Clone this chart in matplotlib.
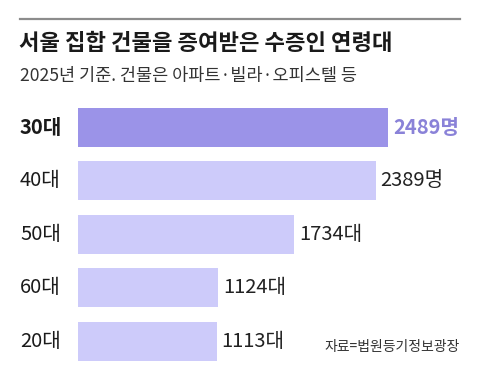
import matplotlib
matplotlib.use("Agg")
import matplotlib.pyplot as plt

plt.rcParams['font.family'] = ['Noto Sans CJK KR', 'DejaVu Sans']

ages = ['30대', '40대', '50대', '60대', '20대']
counts = [2489, 2389, 1734, 1124, 1113]
value_labels = ['2489명', '2389명', '1734대', '1124대', '1113대']

title = '서울 집합 건물을 증여받은 수증인 연령대'
subtitle = '2025년 기준. 건물은 아파트·빌라·오피스텔 등'
source = '자료=법원등기정보광장'

W, H = 480, 390
fig = plt.figure(figsize=(W / 100, H / 100), dpi=100)
fig.patch.set_facecolor('white')

# top rule
fig.add_artist(plt.Line2D([20 / W, 460 / W], [1 - 19 / H, 1 - 19 / H],
                          color='#8c8c8c', lw=1.6))
fig.text(19 / W, 1 - 44 / H, title, fontsize=16, fontweight='bold',
         color='#1a1a1a', va='center', ha='left')
fig.text(20 / W, 1 - 76 / H, subtitle, fontsize=12.6, color='#333333',
         va='center', ha='left')

# axes placed so bars start at x=78px
x_max = 3000
px_per_unit = 310 / 2489
ax = fig.add_axes([78 / W, 1 - 368 / H, x_max * px_per_unit / W, 267.5 / H])
ax.set_xlim(0, x_max)
ax.set_ylim(len(ages) - 0.5, -0.5)
ax.axis('off')

colors = ['#9b93e8' if i == 0 else '#cdcbfa' for i in range(len(ages))]
ypos = list(range(len(ages)))
ax.barh(ypos, counts, height=0.73, color=colors)

for i, (a, v, lab) in enumerate(zip(ages, counts, value_labels)):
    ax.text(-58 / px_per_unit, i, a, fontsize=14.5,
            fontweight='bold' if i == 0 else 'normal',
            color='#1a1a1a', va='center', ha='left')
    ax.text(v + 5 / px_per_unit, i, lab, fontsize=14.5,
            fontweight='bold' if i == 0 else 'normal',
            color='#8a82d8' if i == 0 else '#222222',
            va='center', ha='left')

fig.text(460 / W, 1 - 347 / H, source, fontsize=10, color='#333333',
         va='center', ha='right')

fig.savefig('out.png', dpi=100, facecolor='white')
